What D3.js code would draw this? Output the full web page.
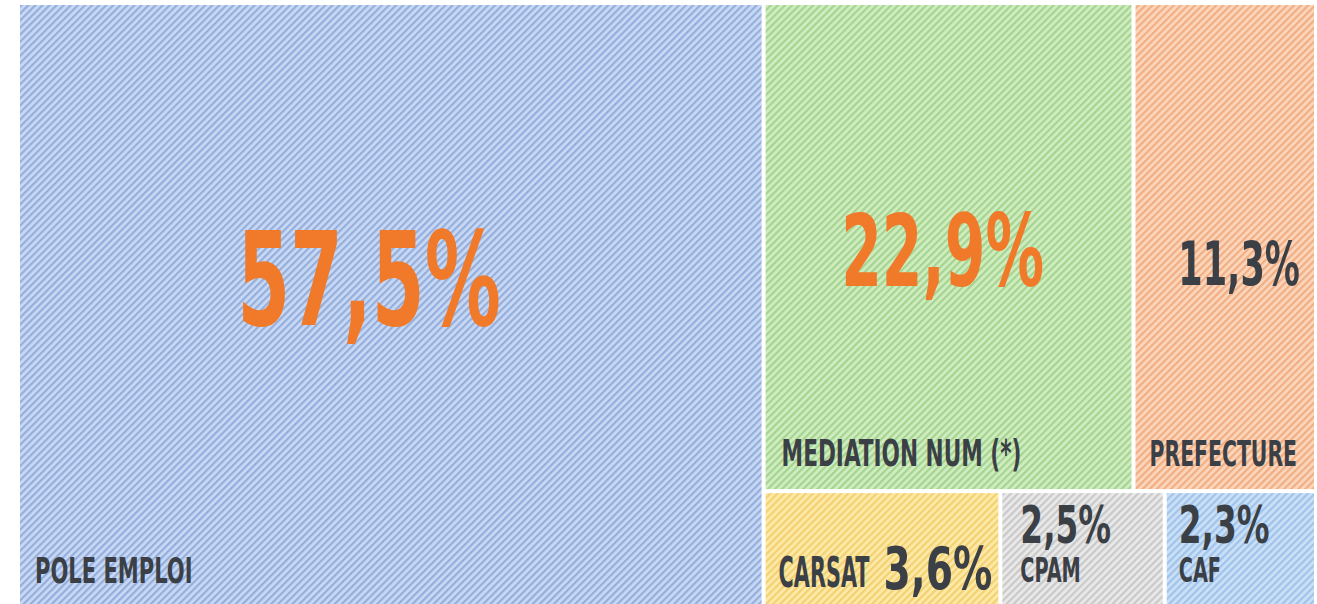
<!DOCTYPE html>
<html>
<head>
<meta charset="utf-8">
<script src="https://cdn.jsdelivr.net/npm/d3@7"></script>
<style>
  html, body { margin: 0; padding: 0; background: #ffffff; overflow: hidden; }
  text { font-family: "DejaVu Sans Condensed", "DejaVu Sans", sans-serif; font-weight: bold; }
</style>
</head>
<body>
<script>
// Data {{{1
const categories = ["POLE EMPLOI", "MEDIATION NUM (*)", "PREFECTURE", "CARSAT", "CPAM", "CAF"];
const shares = [57.5, 22.9, 11.3, 3.6, 2.5, 2.3];
// the tiles right of the big one, grouped row by row (indices into categories)
const rightRows = [[1, 2], [3, 4, 5]];

// Styles {{{1
const width = 1317, height = 604;
const ink = "#3b3f46", orange = "#f07a2a";
const squeeze = 0.65; // the reference uses a very condensed font
const stripes = {
    "POLE EMPLOI": ["#c8d9f5", "#95aedb"],
    "MEDIATION NUM (*)": ["#d0edc2", "#a5d48f"],
    "PREFECTURE": ["#fbd6bd", "#f1ae82"],
    "CARSAT": ["#fdeaa8", "#f3d071"],
    "CPAM": ["#e9e9e9", "#c9c9c9"],
    "CAF": ["#cbe0f6", "#9fc3ea"]
};
// label spots relative to the tile: dx from left (or right if negative), dy from top (or bottom if negative)
const labelSpots = {
    "POLE EMPLOI": {
        value: { dx: 349, dy: 320, size: 130, anchor: "middle", fill: orange },
        name: { dx: 15, dy: -21, size: 36, anchor: "start", fill: ink }
    },
    "MEDIATION NUM (*)": {
        value: { dx: 177, dy: 281, size: 100, anchor: "middle", fill: orange },
        name: { dx: 16, dy: -23, size: 37, anchor: "start", fill: ink }
    },
    "PREFECTURE": {
        value: { dx: -14, dy: 280, size: 60, anchor: "end", fill: ink },
        name: { dx: 14, dy: -23, size: 36, anchor: "start", fill: ink, sx: 0.63 }
    },
    "CARSAT": {
        value: { dx: -6, dy: -15, size: 59, anchor: "end", fill: ink, sx: 0.74 },
        name: { dx: 13, dy: -17, size: 42, anchor: "start", fill: ink, sx: 0.55 }
    },
    "CPAM": {
        value: { dx: 18, dy: 50, size: 52, anchor: "start", fill: ink, sx: 0.7 },
        name: { dx: 18, dy: -22, size: 33, anchor: "start", fill: ink }
    },
    "CAF": {
        value: { dx: 12, dy: 50, size: 52, anchor: "start", fill: ink, sx: 0.7 },
        name: { dx: 12, dy: -22, size: 33, anchor: "start", fill: ink }
    }
};

// Main {{{1
function main() {
    const svg = d3.select("body").append("svg")
        .attr("width", width)
        .attr("height", height);

    createStripePatterns(svg);

    const root = buildHierarchy();
    d3.treemap()
        .tile(d3.treemapSliceDice)
        .size([1294, 604])
        .paddingInner(4)(root);

    const tiles = svg.append("g")
        .attr("transform", "translate(20,5)")
        .selectAll(".tile")
        .data(root.leaves())
        .join("g")
        .classed("tile", true);

    tiles.append("rect")
        .attr("x", (d) => d.x0)
        .attr("y", (d) => d.y0)
        .attr("width", (d) => d.x1 - d.x0)
        .attr("height", (d) => d.y1 - d.y0)
        .attr("fill", (d) => "url(#" + patternId(d.data.name) + ")");

    tiles.each(function (d) {
        const spot = labelSpots[d.data.name];
        addLabel(d3.select(this), d, spot.value, percent(d.data.value));
        addLabel(d3.select(this), d, spot.name, d.data.name);
    });
}

// Hierarchy {{{1
function buildHierarchy() {
    const leaf = (i) => ({ name: categories[i], value: shares[i] });
    const data = {
        name: "root",
        children: [
            leaf(0),
            { name: "right", children: rightRows.map((row, r) => ({ name: "row" + r, children: row.map(leaf) })) }
        ]
    };
    // keep the given order, no sorting
    return d3.hierarchy(data).sum((d) => d.children ? 0 : d.value);
}

// Patterns {{{1
function createStripePatterns(svg) {
    const defs = svg.append("defs");
    const patterns = defs.selectAll("pattern")
        .data(categories)
        .join("pattern")
        .attr("id", (d) => patternId(d))
        .attr("patternUnits", "userSpaceOnUse")
        .attr("width", 5)
        .attr("height", 5)
        .attr("patternTransform", "rotate(45)");
    patterns.append("rect")
        .attr("width", 5)
        .attr("height", 5)
        .attr("fill", (d) => stripes[d][0]);
    patterns.append("rect")
        .attr("width", 2.2)
        .attr("height", 5)
        .attr("fill", (d) => stripes[d][1]);
}

// Labels {{{1
function addLabel(g, d, spot, label) {
    const x = spot.dx >= 0 ? d.x0 + spot.dx : d.x1 + spot.dx;
    const y = spot.dy >= 0 ? d.y0 + spot.dy : Math.min(d.y1, 599) + spot.dy;
    const sx = spot.sx || squeeze;
    g.append("text")
        .attr("transform", "translate(" + x + "," + y + ") scale(" + sx + ",1)")
        .attr("text-anchor", spot.anchor)
        .attr("font-size", spot.size)
        .attr("fill", spot.fill)
        .text(label);
}

// Utility functions {{{1
function percent(v) {
    return d3.format(".1f")(v).replace(".", ",") + "%";
}
function patternId(name) {
    return "hatch-" + name.replace(/[^A-Za-z]/g, "");
}

main();
</script>
</body>
</html>
